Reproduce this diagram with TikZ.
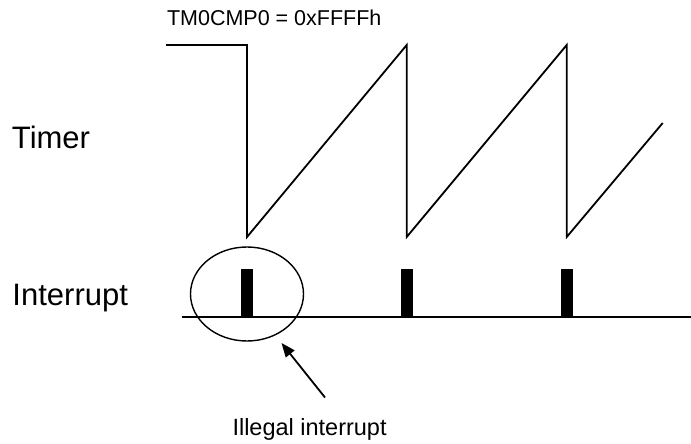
\documentclass[tikz,border=0pt]{standalone}
\usepackage{fontspec}
\setmainfont{Liberation Sans}
\usetikzlibrary{arrows.meta,shapes.geometric}
\tikzset{
  wave/.style={line width=1.8pt, line join=miter},
  base/.style={line width=2pt},
  pulse/.style={fill=black, draw=none},
  lbl/.style={anchor=base west, inner sep=0pt, outer sep=0pt},
  ring/.style={ellipse, draw, line width=1.4pt, minimum width=113pt, minimum height=94pt, inner sep=0pt},
  pointer/.style={line width=1.8pt, -{Triangle[length=14pt,width=11pt]}}
}
\begin{document}
\begin{tikzpicture}[x=1pt,y=-1pt]
\useasboundingbox (0,0) rectangle (691,444);
% labels
\node[lbl, font=\fontsize{21.5}{24}\selectfont] (cmp) at (167,26) {TM0CMP0 = 0xFFFFh};
\node[lbl, font=\fontsize{31}{34}\selectfont] (timer) at (12,148) {Timer};
\node[lbl, font=\fontsize{31}{34}\selectfont] (intr) at (12.5,305) {Interrupt};
\node[lbl, font=\fontsize{23.5}{26}\selectfont] (illegal) at (232.5,435) {Illegal interrupt};
% timer waveform
\draw[wave] (166,45) -- (247,45) -- (247,237) -- (406.7,45) -- (406.7,237) -- (566.7,45) -- (566.7,237) -- (662.7,123);
% interrupt baseline
\draw[base] (181.5,317) -- (691,317);
% pulses
\fill[pulse] (241,269) rectangle (252.5,317);
\fill[pulse] (400.8,269) rectangle (412.5,317);
\fill[pulse] (560.8,269) rectangle (572.5,317);
% ellipse marking the illegal interrupt
\node[ring] (mark) at (247,294) {};
% arrow
\coordinate (tail) at (325,397.5);
\coordinate (tip) at (281.5,343);
\draw[pointer] (tail) -- (tip);
\end{tikzpicture}
\end{document}
